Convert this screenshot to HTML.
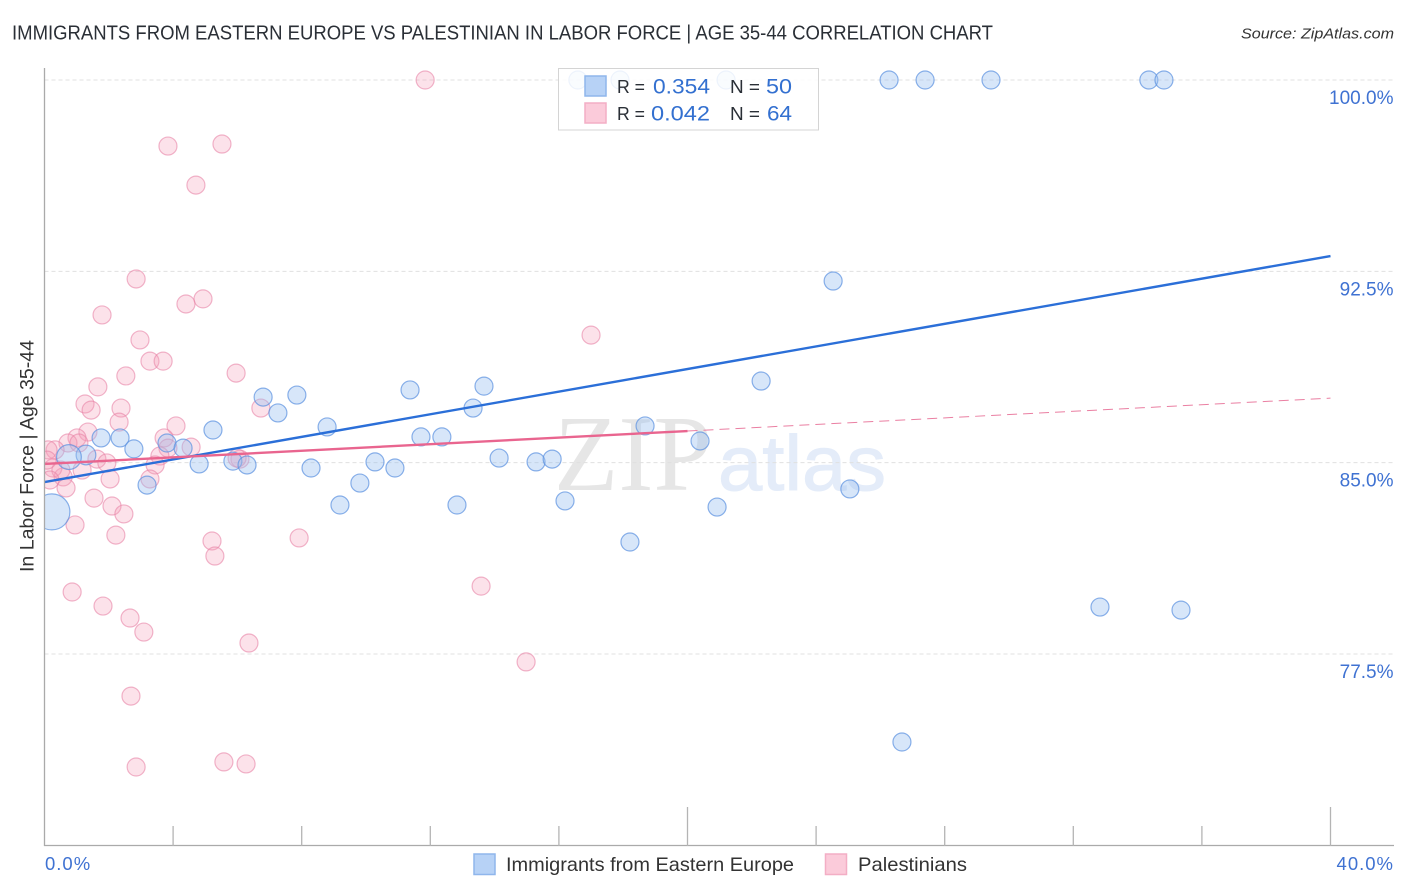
<!DOCTYPE html>
<html lang="en">
<head>
<meta charset="utf-8">
<title>Immigrants from Eastern Europe vs Palestinian in Labor Force correlation chart</title>
<style>
html,body{margin:0;padding:0;background:#fff;}
svg{display:block;font-family:"Liberation Sans",sans-serif;}
</style>
</head>
<body>
<svg id="chart" xmlns="http://www.w3.org/2000/svg" width="1406" height="892" viewBox="0 0 1406 892">
  <defs>
    <clipPath id="plot-clip"><rect x="44.5" y="60" width="1350" height="786"/></clipPath>
  </defs>
  <rect x="0" y="0" width="1406" height="892" fill="#ffffff"/>
  <text x="12" y="39.5" font-size="20" fill="#2a2f36" textLength="981" lengthAdjust="spacingAndGlyphs">IMMIGRANTS FROM EASTERN EUROPE VS PALESTINIAN IN LABOR FORCE | AGE 35-44 CORRELATION CHART</text>
  <text x="1394" y="38.5" font-size="15" font-style="italic" fill="#333333" text-anchor="end" textLength="153" lengthAdjust="spacingAndGlyphs">Source: ZipAtlas.com</text>

  <g>
    <text x="554" y="490" font-family="'Liberation Serif',serif" font-size="108" fill="#e6e6e6" textLength="158" lengthAdjust="spacingAndGlyphs">ZIP</text>
    <text x="718" y="490" font-size="78" fill="#e4ecf9" stroke="#e4ecf9" stroke-width="1" textLength="168" lengthAdjust="spacingAndGlyphs">atlas</text>
  </g>

  <g id="grid"></g>
  <g clip-path="url(#plot-clip)">
    <g id="pink-points"></g>
    <g id="blue-points"></g>
  </g>
  <g id="trends"></g>
  <g id="axes"></g>
  <g id="tick-labels"></g>

  <text transform="translate(33.5,572) rotate(-90)" font-size="19" fill="#333333" textLength="232" lengthAdjust="spacingAndGlyphs">In Labor Force | Age 35-44</text>

  <g>
    <rect x="558.5" y="68.5" width="260" height="61.5" fill="#ffffff" fill-opacity="0.85" stroke="#d4d4d4" stroke-width="1"/>
    <rect x="585" y="76" width="21" height="20" fill="#b7d2f6" stroke="#8fb6ec" stroke-width="1.5"/>
    <rect x="585" y="103" width="21" height="20" fill="#fbcbda" stroke="#f3aec5" stroke-width="1.5"/>
    <text x="617" y="93" font-size="18" fill="#2a2f36" textLength="28" lengthAdjust="spacingAndGlyphs">R =</text>
    <text x="653" y="93.5" font-size="21" fill="#3370d0" textLength="57" lengthAdjust="spacingAndGlyphs">0.354</text>
    <text x="730" y="93" font-size="18" fill="#2a2f36" textLength="30" lengthAdjust="spacingAndGlyphs">N =</text>
    <text x="766" y="93.5" font-size="21" fill="#3370d0" textLength="26" lengthAdjust="spacingAndGlyphs">50</text>
    <text x="617" y="120" font-size="18" fill="#2a2f36" textLength="28" lengthAdjust="spacingAndGlyphs">R =</text>
    <text x="651" y="120.5" font-size="21" fill="#3370d0" textLength="59" lengthAdjust="spacingAndGlyphs">0.042</text>
    <text x="730" y="120" font-size="18" fill="#2a2f36" textLength="30" lengthAdjust="spacingAndGlyphs">N =</text>
    <text x="767" y="120.5" font-size="21" fill="#3370d0" textLength="25" lengthAdjust="spacingAndGlyphs">64</text>
  </g>

  <g>
    <g>
      <rect x="474" y="854" width="21" height="20.5" fill="#b7d2f6" stroke="#8fb6ec" stroke-width="1.5"/>
      <text x="506" y="871" font-size="19.5" fill="#333333" textLength="288" lengthAdjust="spacingAndGlyphs">Immigrants from Eastern Europe</text>
    </g>
    <g>
      <rect x="825.5" y="854" width="21" height="20.5" fill="#fbcbda" stroke="#f3aec5" stroke-width="1.5"/>
      <text x="858" y="871" font-size="19.5" fill="#333333" textLength="109" lengthAdjust="spacingAndGlyphs">Palestinians</text>
    </g>
  </g>
</svg>

<script>
// ---- chart data (x: share %, y: in labor force %) ----
const blueX = [16.59,17.90,21.20,26.27,27.39,29.44,34.35,34.82,24.53,22.29,18.68,20.39,6.80,7.26,7.85,8.79,11.37,13.67,13.33,11.71,12.36,5.24,2.35,1.76,2.78,3.81,4.31,1.29,0.76,4.81,5.86,6.30,8.29,10.28,10.90,9.81,9.19,3.19,12.83,14.14,15.29,15.79,16.19,18.21,20.92,25.05,32.83,35.35,26.67,0.23];
const blueY = [100,100,100,100,100,100,100,100,92.12,88.20,86.44,85.85,87.57,86.95,87.65,86.40,87.85,88.00,87.14,86.01,86.01,86.28,85.97,85.97,85.54,85.77,85.57,85.30,85.22,84.95,85.06,84.91,84.79,85.03,84.79,84.20,83.34,84.12,83.34,85.18,85.03,85.14,83.50,81.89,83.26,83.97,79.34,79.22,74.05,83.07];
const blueWeight = [1,1,1,1,1,1,1,1,1,1,1,1,1,1,1,1,1,1,1,1,1,1,1,1,1,1,1,1.2,1.9,1,1,1,1,1,1,1,1,1,1,1,1,1,1,1,1,1,1,1,1,4];
const pinkX = [11.84,3.84,5.52,4.71,2.85,4.93,4.40,1.79,2.97,17.00,3.28,3.69,2.53,5.96,1.66,1.26,1.45,2.38,6.73,2.32,4.09,1.35,1.01,0.73,1.07,0.33,0.11,1.63,1.94,1.17,0.58,0.26,0.51,0.08,0.17,0.67,2.04,1.54,2.10,2.47,0.95,2.22,3.72,3.84,4.56,3.59,3.44,3.28,6.08,5.99,5.21,5.30,7.92,0.86,1.82,2.66,3.09,6.36,2.69,2.85,5.58,6.27,13.58,14.98];
const pinkY = [100,97.41,97.49,95.88,92.20,91.42,91.22,90.79,89.81,90.00,88.98,88.98,88.40,88.51,87.97,87.30,87.06,87.14,87.14,86.59,86.44,86.20,85.97,85.77,85.77,85.50,85.50,85.14,84.99,84.71,84.44,84.79,84.71,85.10,84.32,84.01,84.36,83.61,83.30,82.99,82.56,82.16,85.97,85.57,85.61,85.26,84.91,84.36,85.14,85.18,81.93,81.34,82.05,79.93,79.38,78.91,78.36,77.93,75.85,73.07,73.27,73.19,80.16,77.19];
const blueTrendX = [0,40];
const blueTrendY = [84.24,93.10];
const pinkTrendX = [0,20];
const pinkTrendY = [84.95,86.24];
const pinkTrendExtX = [20,40];
const pinkTrendExtY = [86.24,87.53];
const yTicks = [100,92.5,85,77.5];
const yTickLabels = ["100.0%","92.5%","85.0%","77.5%"];
const xTicks = [0,4,8,12,16,20,24,28,32,36,40];
const xMajorTicks = [20,40];
const xEndLabels = ["0.0%","40.0%"];

// ---- axis functions ----
function xScale(v){ return 44.5 + v * (1330.5 - 44.5) / 40; }
function yScale(v){ return 80 + (100 - v) * (654 - 80) / 22.5; }

const NS = 'http://www.w3.org/2000/svg';
function make(tag, parentId, attrs, text){
  const el = document.createElementNS(NS, tag);
  for (const k in attrs) el.setAttribute(k, attrs[k]);
  if (text !== undefined) el.textContent = text;
  document.getElementById(parentId).appendChild(el);
  return el;
}

// gridlines and y tick labels
yTicks.forEach(function(t, i){
  const g = make('line', 'grid', {x1:44.5, x2:1394, y1:yScale(t), y2:yScale(t), stroke:'#e0e0e0', 'stroke-width':1, 'stroke-dasharray':'4 3'});
  
  
  const lab = make('text', 'tick-labels', {x:1393.5, y:yScale(t) + 24, 'font-size':19, fill:'#3f72d2', 'text-anchor':'end'}, yTickLabels[i]);
  
  
});

// points
pinkX.forEach(function(x, i){
  const c = make('circle', 'pink-points', {cx:xScale(x), cy:yScale(pinkY[i]), r:9, fill:'#f4a0bb', 'fill-opacity':0.3, stroke:'#e884a6', 'stroke-opacity':0.6, 'stroke-width':1.2});
  
  
});
blueX.forEach(function(x, i){
  const c = make('circle', 'blue-points', {cx:xScale(x), cy:yScale(blueY[i]), r:9 * Math.sqrt(blueWeight[i]), fill:'#9cc0f0', 'fill-opacity':0.4, stroke:'#5a90e0', 'stroke-opacity':0.7, 'stroke-width':1.2});
  
  
});

// trend lines
const pinkExt = make('line', 'trends', {x1:xScale(pinkTrendExtX[0]), y1:yScale(pinkTrendExtY[0]), x2:xScale(pinkTrendExtX[1]), y2:yScale(pinkTrendExtY[1]), stroke:'#ea7fa2', 'stroke-width':1, 'stroke-dasharray':'10 6'});


const blueLine = make('line', 'trends', {x1:xScale(blueTrendX[0]), y1:yScale(blueTrendY[0]), x2:xScale(blueTrendX[1]), y2:yScale(blueTrendY[1]), stroke:'#2b6fd8', 'stroke-width':2.4});


const pinkLine = make('line', 'trends', {x1:xScale(pinkTrendX[0]), y1:yScale(pinkTrendY[0]), x2:xScale(pinkTrendX[1]), y2:yScale(pinkTrendY[1]), stroke:'#e9658f', 'stroke-width':2.4});



// axes and ticks
const yAxis = make('line', 'axes', {x1:44.5, x2:44.5, y1:68, y2:846, stroke:'#aaaaaa', 'stroke-width':1.3});


const xAxis = make('line', 'axes', {x1:44, x2:1394, y1:845.5, y2:845.5, stroke:'#aaaaaa', 'stroke-width':1.3});


xTicks.slice(1).forEach(function(t){
  const top = xMajorTicks.indexOf(t) >= 0 ? 807 : 826;
  const tk = make('line', 'axes', {x1:xScale(t), x2:xScale(t), y1:top, y2:846, stroke:'#b4b4b4', 'stroke-width':1.3});
  
  
});
const x0 = make('text', 'tick-labels', {x:45, y:870, 'font-size':18.5, 'letter-spacing':1, fill:'#3f72d2'}, xEndLabels[0]);


const x1 = make('text', 'tick-labels', {x:1394, y:870, 'font-size':18.5, 'letter-spacing':1, fill:'#3f72d2', 'text-anchor':'end'}, xEndLabels[1]);


</script>
</body>
</html>
